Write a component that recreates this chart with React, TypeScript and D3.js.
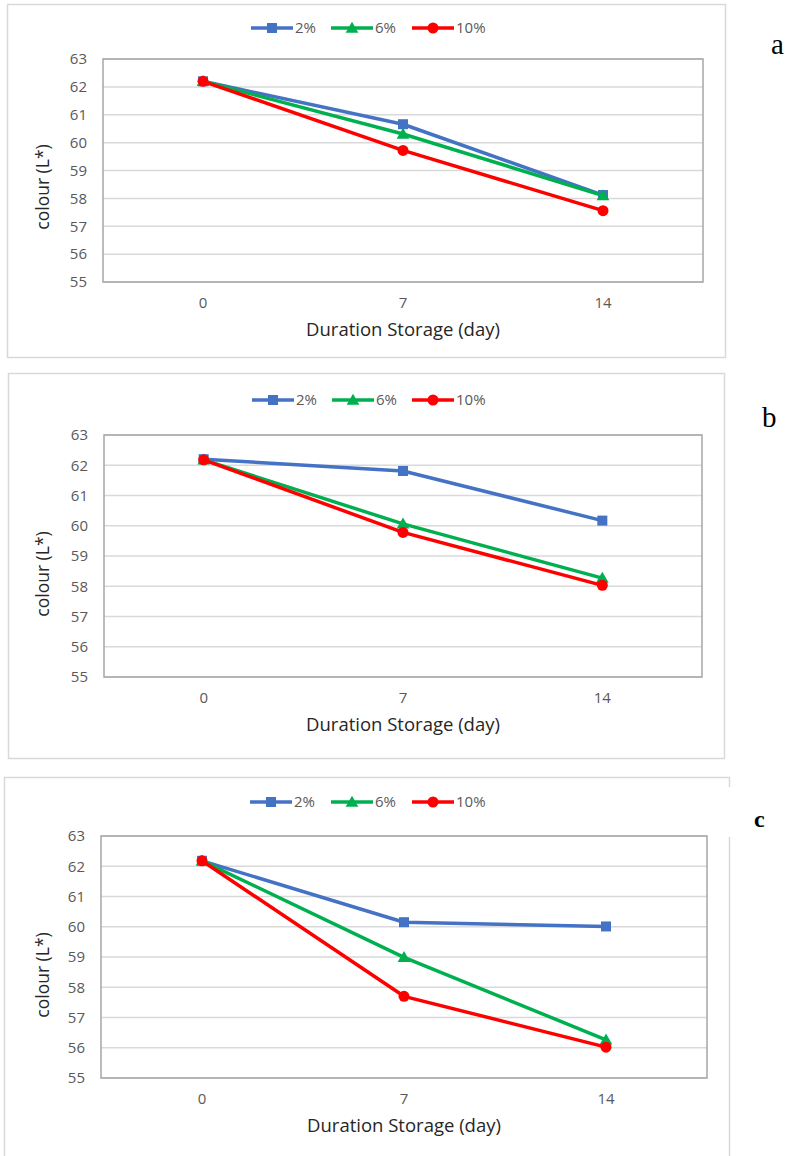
import React from "react";
import * as d3 from "d3";

const categories = ["0", "7", "14"];
const seriesNames = ["2%", "6%", "10%"];
const seriesColors = ["#4472C4", "#00B050", "#FF0000"];
const seriesMarkers = ["square", "triangle", "circle"];
const yTicks = [55, 56, 57, 58, 59, 60, 61, 62, 63];
const panelLabels = ["a", "b", "c"];

const panelA_2 = [62.2, 60.66, 58.12];
const panelA_6 = [62.2, 60.31, 58.1];
const panelA_10 = [62.2, 59.72, 57.56];

const panelB_2 = [62.2, 61.81, 60.17];
const panelB_6 = [62.18, 60.06, 58.27];
const panelB_10 = [62.18, 59.78, 58.03];

const panelC_2 = [62.18, 60.15, 60.01];
const panelC_6 = [62.18, 58.99, 56.26];
const panelC_10 = [62.18, 57.7, 56.02];

const xTitle = "Duration Storage (day)";
const yTitle = "colour (L*)";

type Layout = {
  box: [number, number, number, number];
  plot: [number, number, number, number];
  legendY: number;
  legendX: number[];
  yTitleY: number;
  label: [number, number];
  labelStyle: { size: number; weight: string };
  gap?: [number, number];
};

const layouts: Layout[] = [
  {
    box: [7, 4, 725, 357],
    plot: [103, 59, 703, 282],
    legendY: 28,
    legendX: [251, 331, 412],
    yTitleY: 187,
    label: [771, 54],
    labelStyle: { size: 29, weight: "normal" },
  },
  {
    box: [8, 373, 724, 758],
    plot: [104, 435, 702, 677],
    legendY: 400,
    legendX: [252, 332, 412],
    yTitleY: 574,
    label: [762, 427],
    labelStyle: { size: 29, weight: "normal" },
  },
  {
    box: [4, 777, 729, 1200],
    plot: [101, 836, 707, 1078],
    legendY: 802,
    legendX: [250, 331, 412],
    yTitleY: 975,
    label: [754, 827],
    labelStyle: { size: 24, weight: "bold" },
    gap: [787, 837],
  },
];

const panelData = [
  [panelA_2, panelA_6, panelA_10],
  [panelB_2, panelB_6, panelB_10],
  [panelC_2, panelC_6, panelC_10],
];

const FONT = "'Open Sans', 'Noto Sans', sans-serif";

function Marker({ kind, x, y, color }: { kind: string; x: number; y: number; color: string }) {
  if (kind === "square") {
    return <rect x={x - 5} y={y - 5} width={10} height={10} fill={color} />;
  }
  if (kind === "triangle") {
    const tri = d3.symbol().type(d3.symbolTriangle).size(70)();
    return <path d={tri || ""} transform={`translate(${x},${y + 1})`} fill={color} />;
  }
  return <circle cx={x} cy={y} r={5.5} fill={color} />;
}

function Panel({ layout, data, label }: { layout: Layout; data: number[][]; label: string }) {
  const [bx0, by0, bx1, by1] = layout.box;
  const [px0, py0, px1, py1] = layout.plot;
  const x = d3.scalePoint<string>().domain(categories).range([px0, px1]).padding(0.5);
  const y = d3.scaleLinear().domain([55, 63]).range([py1, py0]);
  const line = d3
    .line<number>()
    .x((_, i) => x(categories[i]) as number)
    .y((d) => y(d));
  return (
    <g>
      <rect x={bx0 + 0.5} y={by0 + 0.5} width={bx1 - bx0} height={by1 - by0} fill="#fff" stroke="#D9D9D9" strokeWidth={1.5} />
      {layout.gap && (
        <rect x={bx1 - 3} y={layout.gap[0]} width={8} height={layout.gap[1] - layout.gap[0]} fill="#fff" />
      )}
      {yTicks.map((t) => (
        <line key={t} x1={px0} x2={px1} y1={y(t)} y2={y(t)} stroke="#D9D9D9" strokeWidth={1.5} />
      ))}
      <rect x={px0} y={py0} width={px1 - px0} height={py1 - py0} fill="none" stroke="#A6A6A6" strokeWidth={1.5} />
      {yTicks.map((t) => (
        <text key={t} x={px0 - 16} y={y(t)} dy="0.35em" textAnchor="end" fontSize={15} fill="#595959" fontFamily={FONT}>
          {t}
        </text>
      ))}
      {categories.map((c) => (
        <text key={c} x={x(c)} y={py1 + 21} dy="0.35em" textAnchor="middle" fontSize={15} fill="#595959" fontFamily={FONT}>
          {c}
        </text>
      ))}
      {data.map((vals, si) => (
        <g key={si}>
          <path d={line(vals) || ""} fill="none" stroke={seriesColors[si]} strokeWidth={3.5} strokeLinejoin="round" />
          {vals.map((v, i) => (
            <Marker key={i} kind={seriesMarkers[si]} x={x(categories[i]) as number} y={y(v)} color={seriesColors[si]} />
          ))}
        </g>
      ))}
      {seriesNames.map((n, si) => {
        const lx = layout.legendX[si];
        return (
          <g key={n}>
            <line x1={lx} x2={lx + 42} y1={layout.legendY} y2={layout.legendY} stroke={seriesColors[si]} strokeWidth={3.5} />
            <Marker kind={seriesMarkers[si]} x={lx + 21} y={layout.legendY} color={seriesColors[si]} />
            <text x={lx + 44} y={layout.legendY} dy="0.35em" fontSize={15} fill="#595959" fontFamily={FONT}>
              {n}
            </text>
          </g>
        );
      })}
      <text x={(px0 + px1) / 2} y={py1 + 48} dy="0.35em" textAnchor="middle" fontSize={18.5} fill="#262626" fontFamily={FONT}>
        {xTitle}
      </text>
      <text
        transform={`translate(43,${layout.yTitleY}) rotate(-90)`}
        dy="0.35em"
        textAnchor="middle"
        fontSize={17.5}
        fill="#262626"
        fontFamily={FONT}
      >
        {yTitle}
      </text>
      <text
        x={layout.label[0]}
        y={layout.label[1]}
        fontSize={layout.labelStyle.size}
        fontWeight={layout.labelStyle.weight}
        fill="#000"
        fontFamily="'Liberation Serif', 'DejaVu Serif', serif"
      >
        {label}
      </text>
    </g>
  );
}

export default function App() {
  return (
    <svg
      width={789}
      height={1156}
      style={{ position: "absolute", left: 0, top: 0, background: "#fff" }}
    >
      <rect x={0} y={0} width={789} height={1156} fill="#fff" />
      {layouts.map((l, i) => (
        <Panel key={i} layout={l} data={panelData[i]} label={panelLabels[i]} />
      ))}
    </svg>
  );
}
